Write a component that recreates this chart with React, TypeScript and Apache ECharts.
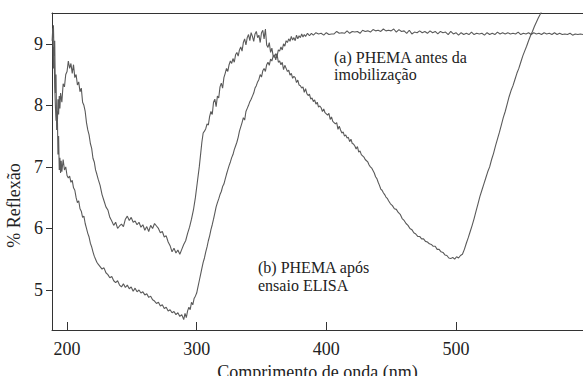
import React, { useEffect, useRef } from "react";
import * as echarts from "echarts";

// Tick values
const xTickValues = [200, 300, 400, 500];
const yTickValues = [5, 6, 7, 8, 9];

// Axis titles and annotations
const xTitle = "Comprimento de onda (nm)";
const yTitle = "% Reflexão";
const noteA = ["(a) PHEMA antes da", "imobilização"];
const noteB = ["(b) PHEMA após", "ensaio ELISA"];

// Curve with the broad dip near 500 nm  [wavelength (nm), % reflexão]
const curveDip500: [number, number][] = [
  [188.5, 9.05], [189, 9.25], [189.5, 8.6], [190, 8.95], [190.5, 8.3], [191, 8.0], [191.5, 7.75],
  [192, 7.9], [192.5, 7.65], [193, 8.1], [193.5, 7.85], [194, 8.15], [194.5, 7.95], [195, 8.2],
  [196, 8.05], [197, 8.35], [198, 8.3], [199, 8.5], [200, 8.55], [201, 8.72], [202, 8.6],
  [203, 8.68], [204, 8.52], [205, 8.66], [206, 8.45], [207, 8.5], [208, 8.33], [209, 8.38],
  [210, 8.22], [211, 8.28], [212, 8.05], [213, 8.0], [214, 7.9], [215, 7.72], [216, 7.6],
  [217, 7.52], [218, 7.38], [219, 7.3], [220, 7.14], [221, 7.08], [222, 6.95], [223, 6.88],
  [224, 6.8], [225.5, 6.7], [227, 6.55], [228.5, 6.45], [230, 6.35], [231.5, 6.3], [233, 6.18],
  [234.5, 6.12], [236, 6.05], [237.5, 6.1], [239, 6.0], [240.5, 6.04], [242, 6.07], [243.5, 6.03],
  [245, 6.15], [246.5, 6.2], [248, 6.13], [249.5, 6.18], [251, 6.1], [252.5, 6.12], [254, 6.06],
  [255.5, 6.1], [257, 6.02], [258.5, 6.06], [260, 5.97], [261.5, 6.03], [263, 5.95], [264.5, 6.05],
  [266, 6.0], [267.5, 6.08], [269, 6.04], [270.5, 6.0], [272, 5.93], [273.5, 5.95], [275, 5.86],
  [276.5, 5.88], [278, 5.78], [279.5, 5.72], [281, 5.62], [282.5, 5.68], [284, 5.6], [285.5, 5.65],
  [287, 5.58], [288.5, 5.66], [290, 5.74], [291.5, 5.8], [293, 5.92], [294.5, 6.02], [296, 6.15],
  [297.5, 6.3], [299, 6.5], [300.5, 6.75], [302, 7.0], [303, 7.2], [304, 7.4], [305, 7.55],
  [306, 7.58], [307, 7.62], [308, 7.7], [309, 7.68], [310, 7.82], [311, 7.9], [312, 7.85],
  [313, 8.05], [314, 8.1], [315, 7.98], [316, 8.15], [317, 8.12], [318, 8.3], [319, 8.36],
  [320, 8.28], [321, 8.45], [322, 8.52], [323, 8.6], [324, 8.55], [325, 8.66], [326, 8.72],
  [327, 8.68], [328, 8.76], [329, 8.7], [330, 8.82], [331, 8.86], [332, 8.8], [333, 8.9],
  [334, 8.95], [335, 8.88], [336, 9.02], [337, 9.08], [338, 8.98], [339, 9.1], [340, 9.15],
  [341, 9.05], [342, 9.18], [343, 9.12], [344, 9.04], [345, 9.16], [346, 9.2], [347, 9.1],
  [348, 9.14], [349, 9.02], [350, 9.18], [351, 9.22], [352, 9.08], [353, 9.24], [354, 8.98],
  [355, 8.94], [356, 9.02], [357, 8.86], [358, 8.93], [359, 8.8], [360, 8.82], [361, 8.74],
  [362, 8.83], [363, 8.7], [364, 8.72], [365, 8.66], [366, 8.7], [367, 8.58], [368, 8.65],
  [369, 8.6], [370, 8.55], [371, 8.57], [372, 8.49], [373, 8.52], [374, 8.44], [375, 8.47],
  [376, 8.45], [377, 8.37], [378, 8.41], [379, 8.33], [380, 8.32], [381, 8.28], [382, 8.3],
  [383, 8.21], [384, 8.27], [385, 8.19], [386, 8.16], [387, 8.18], [388, 8.1], [389, 8.12],
  [390, 8.06], [391, 8.09], [392, 8.02], [393, 8.05], [394, 7.97], [395, 7.99], [396, 7.96],
  [397, 7.9], [398, 7.94], [399, 7.88], [400, 7.86], [401, 7.84], [402, 7.87], [403, 7.77],
  [404, 7.81], [405, 7.74], [406, 7.72], [407, 7.7], [408, 7.72], [409, 7.61], [410, 7.66],
  [411, 7.6], [412, 7.55], [413, 7.57], [414, 7.5], [415, 7.52], [416, 7.47], [417, 7.48],
  [418, 7.41], [419, 7.45], [420, 7.38], [421, 7.37], [422, 7.34], [423, 7.29], [424, 7.33],
  [425, 7.24], [426, 7.26], [427, 7.2], [428, 7.18], [429, 7.16], [430, 7.12], [431, 7.1],
  [432, 7.08], [433, 7.03], [434, 7.0], [435, 6.98], [436, 6.94], [437, 6.9], [438, 6.84],
  [439, 6.81], [440, 6.75], [441, 6.7], [442, 6.64], [443, 6.62], [444, 6.58], [445, 6.55],
  [446, 6.51], [447, 6.49], [448, 6.45], [449.5, 6.4], [451, 6.37], [452.5, 6.32], [454, 6.31],
  [455.5, 6.26], [457, 6.23], [458.5, 6.16], [460, 6.13], [461.5, 6.08], [463, 6.05], [464.5, 6.0],
  [466, 5.98], [467.5, 5.93], [469, 5.91], [470.5, 5.87], [472, 5.87], [473.5, 5.83], [475, 5.83],
  [476.5, 5.79], [478, 5.78], [479.5, 5.75], [481, 5.74], [482.5, 5.71], [484, 5.71], [485.5, 5.66],
  [487, 5.66], [488.5, 5.62], [490, 5.61], [491.5, 5.57], [493, 5.56], [494.5, 5.52], [496, 5.51],
  [497.5, 5.53], [499, 5.5], [500.5, 5.54], [502, 5.52], [503.5, 5.56], [505, 5.58], [506.5, 5.66],
  [508, 5.76], [509.5, 5.85], [511, 5.95], [512.5, 6.05], [514, 6.16], [515.5, 6.28], [517, 6.4],
  [518.5, 6.52], [520, 6.62], [521.5, 6.72], [523, 6.82], [524.5, 6.92], [526, 7.0], [527.5, 7.12],
  [529, 7.22], [530.5, 7.34], [532, 7.45], [533.5, 7.56], [535, 7.68], [536.5, 7.8], [538, 7.9],
  [539.5, 8.02], [541, 8.14], [542.5, 8.24], [544, 8.32], [545.5, 8.42], [547, 8.52], [548.5, 8.6],
  [550, 8.7], [551.5, 8.8], [553, 8.88], [554.5, 8.96], [556, 9.05], [557.5, 9.13], [559, 9.2],
  [560.5, 9.28], [562, 9.35], [563.5, 9.42], [565, 9.48], [566.5, 9.55], [568, 9.62],
];

// Curve with the dip near 290 nm and the flat top  [wavelength (nm), % reflexão]
const curveFlatTop: [number, number][] = [
  [189, 9.1], [189.5, 9.3], [190, 8.8], [190.5, 9.05], [191, 8.2], [191.5, 8.5], [192, 7.6],
  [192.5, 7.9], [193, 7.2], [193.5, 7.5], [194, 6.95], [194.5, 7.15], [195, 6.9], [195.5, 7.1],
  [196, 6.92], [197, 7.12], [198, 6.95], [199, 7.0], [200, 6.86], [201, 6.82], [202, 6.85],
  [203, 6.75], [204, 6.78], [205, 6.66], [206, 6.62], [207, 6.5], [208, 6.42], [209, 6.45],
  [210, 6.32], [211, 6.28], [212, 6.18], [213, 6.2], [214, 6.08], [215, 6.0], [216, 5.92],
  [217, 5.86], [218, 5.76], [219, 5.7], [220, 5.62], [221, 5.55], [222, 5.5], [223, 5.45],
  [224, 5.42], [225.5, 5.38], [227, 5.34], [228.5, 5.36], [230, 5.28], [231.5, 5.25], [233, 5.2],
  [234.5, 5.22], [236, 5.15], [237.5, 5.12], [239, 5.15], [240.5, 5.08], [242, 5.05], [243.5, 5.1],
  [245, 5.04], [246.5, 5.08], [248, 5.02], [249.5, 5.05], [251, 4.98], [252.5, 5.03], [254, 4.97],
  [255.5, 5.0], [257, 4.95], [258.5, 4.97], [260, 4.92], [261.5, 4.94], [263, 4.88], [264.5, 4.9],
  [266, 4.84], [267.5, 4.82], [269, 4.78], [270.5, 4.8], [272, 4.74], [273.5, 4.76], [275, 4.7],
  [276.5, 4.72], [278, 4.66], [279.5, 4.68], [281, 4.63], [282.5, 4.65], [284, 4.6], [285.5, 4.63],
  [287, 4.57], [288.5, 4.6], [290, 4.52], [291, 4.62], [292, 4.55], [293, 4.66], [294, 4.72],
  [295, 4.68], [296, 4.8], [297, 4.76], [298, 4.86], [299, 4.9], [300, 4.95], [301, 5.05],
  [302, 5.15], [303, 5.25], [304, 5.35], [305, 5.45], [306, 5.52], [307, 5.62], [308, 5.7],
  [309, 5.8], [310, 5.88], [311, 5.98], [312, 6.06], [313, 6.15], [314, 6.25], [315, 6.35],
  [316, 6.42], [317, 6.48], [318, 6.55], [319, 6.6], [320, 6.68], [321, 6.72], [322, 6.8],
  [323, 6.88], [324, 6.95], [325, 7.02], [326, 7.08], [327, 7.15], [328, 7.2], [329, 7.28],
  [330, 7.34], [331, 7.4], [332, 7.48], [333, 7.58], [334, 7.65], [335, 7.72], [336, 7.8],
  [337, 7.76], [338, 7.9], [339, 7.95], [340, 8.0], [341, 8.06], [342, 8.1], [343, 8.15],
  [344, 8.2], [345, 8.28], [346, 8.32], [347, 8.38], [348, 8.42], [349, 8.5], [350, 8.46],
  [351, 8.56], [352, 8.6], [353, 8.55], [354, 8.66], [355, 8.7], [356, 8.65], [357, 8.75],
  [358, 8.72], [359, 8.8], [360, 8.78], [361, 8.84], [362, 8.8], [363, 8.9], [364, 8.88],
  [365, 8.95], [366, 8.9], [367, 9.0], [368, 8.96], [369, 9.05], [370, 9.02], [371, 9.08],
  [372, 9.04], [373, 9.12], [374, 9.06], [375, 9.1], [376, 9.05], [377, 9.14], [378, 9.08],
  [379, 9.13], [380, 9.1], [381, 9.16], [382, 9.11], [383, 9.15], [384, 9.12], [385.5, 9.17],
  [387, 9.13], [388.5, 9.17], [390, 9.14], [392, 9.18], [394, 9.16], [396, 9.17], [398, 9.14],
  [400, 9.18], [402, 9.15], [404, 9.16], [406, 9.16], [408, 9.2], [410, 9.17], [412, 9.18],
  [414, 9.17], [416, 9.21], [418, 9.17], [420, 9.2], [422, 9.19], [424, 9.2], [426, 9.17],
  [428, 9.22], [430, 9.2], [432, 9.21], [434, 9.19], [436, 9.23], [438, 9.21], [440, 9.22],
  [442, 9.2], [444, 9.24], [446, 9.21], [448, 9.22], [450, 9.21], [452, 9.24], [454, 9.19],
  [456, 9.23], [458, 9.2], [460, 9.21], [462, 9.17], [464, 9.22], [466, 9.16], [468, 9.19],
  [470, 9.18], [472, 9.21], [474, 9.18], [476, 9.2], [478, 9.17], [480, 9.21], [482, 9.18],
  [484, 9.2], [486, 9.16], [488, 9.2], [490, 9.18], [492, 9.19], [494, 9.15], [496, 9.2],
  [498, 9.16], [500, 9.18], [502, 9.14], [504, 9.18], [506, 9.15], [508, 9.17], [510, 9.15],
  [512, 9.19], [514, 9.15], [516, 9.17], [518, 9.16], [520, 9.17], [522, 9.14], [524, 9.18],
  [526, 9.15], [528, 9.17], [530, 9.15], [532, 9.19], [534, 9.16], [536, 9.18], [538, 9.16],
  [540, 9.18], [542, 9.16], [544, 9.17], [546, 9.16], [548, 9.19], [550, 9.15], [552, 9.17],
  [554, 9.16], [556, 9.18], [558, 9.15], [560, 9.18], [562, 9.16], [564, 9.17], [566, 9.15],
  [568, 9.18], [570, 9.16], [572, 9.17], [574, 9.15], [576, 9.18], [578, 9.15], [580, 9.17],
  [582, 9.15], [584, 9.16], [586, 9.15], [588, 9.17], [590, 9.14], [592, 9.16], [594, 9.15],
  [596, 9.16], [598, 9.15],
];

const FONT = "Liberation Serif";
const INK = "#222";
const LINE = "#5a5a5a";

export default function App() {
  const ref = useRef<HTMLDivElement>(null);

  useEffect(() => {
    if (!ref.current) return;
    const chart = echarts.init(ref.current, undefined, { renderer: "svg" });
    const axisText = { color: INK, fontFamily: FONT, fontSize: 18 };
    const noteStyle = { fill: INK, fontFamily: FONT, fontSize: 16 };
    chart.setOption({
      animation: false,
      backgroundColor: "#fff",
      grid: { left: 52, right: 0, top: 13, bottom: 46, containLabel: false, outerBoundsMode: "none" },
      xAxis: [
        {
          type: "value",
          min: 188.4,
          max: 598,
          position: "bottom",
          name: xTitle,
          nameLocation: "middle",
          nameGap: 22,
          nameTextStyle: axisText,
          axisLine: { show: true, lineStyle: { color: "#333", width: 1 } },
          axisTick: { show: true, inside: true, length: 8, customValues: xTickValues, lineStyle: { color: "#333" } },
          axisLabel: { ...axisText, customValues: xTickValues, margin: 10 },
          splitLine: { show: false },
        },
        {
          type: "value",
          min: 188.4,
          max: 598,
          position: "top",
          axisLine: { show: true, lineStyle: { color: "#333", width: 1 } },
          axisTick: { show: false },
          axisLabel: { show: false },
          splitLine: { show: false },
        },
      ],
      yAxis: {
        type: "value",
        min: 4.35,
        max: 9.5,
        name: yTitle,
        nameLocation: "middle",
        nameRotate: 90,
        nameGap: 26,
        nameTextStyle: { ...axisText, padding: [0, 68, 0, 0] },
        axisLine: { show: true, lineStyle: { color: "#333", width: 1 } },
        axisTick: { show: true, inside: false, length: 6, customValues: yTickValues, lineStyle: { color: "#333" } },
        axisLabel: { ...axisText, customValues: yTickValues, margin: 9 },
        splitLine: { show: false },
      },
      series: [
        {
          name: "Curva 1",
          type: "line",
          data: curveDip500,
          showSymbol: false,
          clip: true,
          lineStyle: { color: LINE, width: 1.1 },
        },
        {
          name: "Curva 2",
          type: "line",
          data: curveFlatTop,
          showSymbol: false,
          clip: true,
          lineStyle: { color: LINE, width: 1.1 },
        },
      ],
      graphic: [
        { type: "text", left: 334, top: 49, style: { ...noteStyle, text: noteA[0] } },
        { type: "text", left: 334, top: 66, style: { ...noteStyle, text: noteA[1] } },
        { type: "text", left: 258, top: 259, style: { ...noteStyle, text: noteB[0] } },
        { type: "text", left: 258, top: 277, style: { ...noteStyle, text: noteB[1] } },
      ],
    });
    return () => chart.dispose();
  }, []);

  return <div ref={ref} style={{ width: 583, height: 376, position: "fixed", left: 0, top: 0 }} />;
}
